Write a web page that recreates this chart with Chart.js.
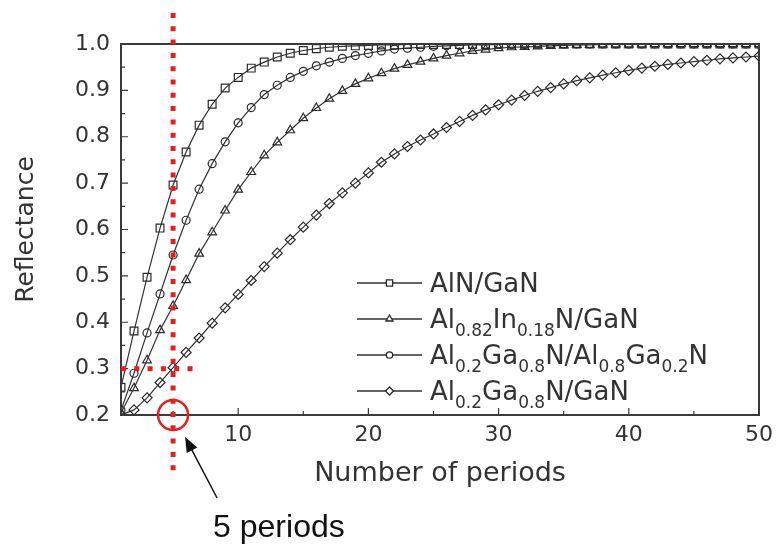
<!DOCTYPE html>
<html>
<head>
<meta charset="utf-8">
<title>Reflectance vs number of periods</title>
<script src="https://cdn.jsdelivr.net/npm/chart.js@4.4.0/dist/chart.umd.min.js"></script>
<style>
    html, body { margin: 0; padding: 0; background: #fff; }
    #reflectance-chart { display: block; }
</style>
</head>
<body>
<canvas id="reflectance-chart" width="780" height="548"></canvas>
<script>
// number of DBR periods
var periods = [1, 2, 3, 4, 5, 6, 7, 8, 9, 10,
    11, 12, 13, 14, 15, 16, 17, 18, 19, 20,
    21, 22, 23, 24, 25, 26, 27, 28, 29, 30,
    31, 32, 33, 34, 35, 36, 37, 38, 39, 40,
    41, 42, 43, 44, 45, 46, 47, 48, 49, 50];

// reflectance of each mirror stack
var alnGan = [0.260, 0.381, 0.497, 0.603, 0.696, 0.767, 0.825, 0.870, 0.905, 0.928,
    0.948, 0.961, 0.972, 0.980, 0.986, 0.990, 0.993, 0.995, 0.996, 0.997,
    0.998, 0.998, 0.999, 0.999, 0.999, 0.999, 0.999, 0.999, 0.999, 1.000,
    1.000, 1.000, 1.000, 1.000, 1.000, 1.000, 1.000, 1.000, 1.000, 1.000,
    1.000, 1.000, 1.000, 1.000, 1.000, 1.000, 1.000, 1.000, 1.000, 1.000];
var alInGan = [0.205, 0.258, 0.318, 0.383, 0.435, 0.491, 0.548, 0.594, 0.641, 0.686,
    0.724, 0.760, 0.788, 0.814, 0.840, 0.862, 0.882, 0.899, 0.914, 0.926,
    0.937, 0.947, 0.955, 0.962, 0.969, 0.975, 0.980, 0.985, 0.988, 0.991,
    0.993, 0.994, 0.995, 0.996, 0.997, 0.998, 0.998, 0.999, 0.999, 0.999,
    0.999, 1.000, 1.000, 1.000, 1.000, 1.000, 1.000, 1.000, 1.000, 1.000];
var alGaNAlGaN = [0.210, 0.290, 0.377, 0.461, 0.545, 0.620, 0.687, 0.742, 0.789, 0.830,
    0.863, 0.891, 0.911, 0.928, 0.941, 0.953, 0.961, 0.969, 0.975, 0.980,
    0.985, 0.989, 0.991, 0.993, 0.995, 0.996, 0.997, 0.998, 0.998, 0.999,
    0.999, 0.999, 1.000, 1.000, 1.000, 1.000, 1.000, 1.000, 1.000, 1.000,
    1.000, 1.000, 1.000, 1.000, 1.000, 1.000, 1.000, 1.000, 1.000, 1.000];
var alGaNGan = [0.200, 0.211, 0.237, 0.270, 0.302, 0.335, 0.366, 0.398, 0.431, 0.460,
    0.490, 0.520, 0.549, 0.578, 0.605, 0.631, 0.656, 0.679, 0.700, 0.722,
    0.745, 0.763, 0.779, 0.793, 0.806, 0.820, 0.833, 0.846, 0.858, 0.869,
    0.879, 0.889, 0.898, 0.906, 0.914, 0.921, 0.927, 0.933, 0.938, 0.943,
    0.948, 0.952, 0.956, 0.959, 0.962, 0.965, 0.968, 0.970, 0.972, 0.974];

// legend names, _{..} marks a subscript
var seriesNames = ['AlN/GaN', 'Al_{0.82}In_{0.18}N/GaN',
    'Al_{0.2}Ga_{0.8}N/Al_{0.8}Ga_{0.2}N', 'Al_{0.2}Ga_{0.8}N/GaN'];

var xTickValues = [10, 20, 30, 40, 50];
var xMinorTicks = [5, 15, 25, 35, 45];
var yTickValues = [0.2, 0.3, 0.4, 0.5, 0.6, 0.7, 0.8, 0.9, 1.0];
var yMinorTicks = [0.25, 0.35, 0.45, 0.55, 0.65, 0.75, 0.85, 0.95];

// the 5-period marker
var markPeriod = 5;
var markReflectance = 0.3;

var FONT = '"DejaVu Sans", sans-serif';
var INK = '#333';
var RED = '#e3211c';

function toPoints(values) {
    return periods.map(function (p, i) { return { x: p, y: values[i] }; });
}

function parseLabel(s) {
    var parts = [], re = /_\{([^}]*)\}/g, last = 0, m;
    while ((m = re.exec(s))) {
        if (m.index > last) parts.push({ text: s.slice(last, m.index), sub: false });
        parts.push({ text: m[1], sub: true });
        last = re.lastIndex;
    }
    if (last < s.length) parts.push({ text: s.slice(last), sub: false });
    return parts;
}

function makeSeries(values, name, style, radius) {
    return {
        label: name.replace(/_\{([^}]*)\}/g, '$1'),
        data: toPoints(values),
        borderColor: '#333',
        borderWidth: 1.2,
        pointStyle: style,
        pointRadius: radius,
        pointBorderColor: '#2a2a2a',
        pointBorderWidth: 1.2,
        pointBackgroundColor: 'rgba(0,0,0,0)',
        tension: 0
    };
}

var datasets = [
    makeSeries(alnGan, seriesNames[0], 'rect', 5.5),
    makeSeries(alInGan, seriesNames[1], 'triangle', 5),
    makeSeries(alGaNAlGaN, seriesNames[2], 'circle', 4),
    makeSeries(alGaNGan, seriesNames[3], 'rectRot', 5)
];

// box round the plot and inward tick marks
var framePlugin = {
    id: 'frame',
    afterDatasetsDraw: function (chart) {
        var ctx = chart.ctx, a = chart.chartArea;
        var xs = chart.scales.x, ys = chart.scales.y;
        ctx.save();
        ctx.strokeStyle = '#3a3a3a';
        ctx.lineWidth = 1.2;
        ctx.beginPath();
        xTickValues.forEach(function (v) {
            var px = xs.getPixelForValue(v);
            ctx.moveTo(px, a.bottom); ctx.lineTo(px, a.bottom - 7);
        });
        xMinorTicks.forEach(function (v) {
            var px = xs.getPixelForValue(v);
            ctx.moveTo(px, a.bottom); ctx.lineTo(px, a.bottom - 4);
        });
        yTickValues.forEach(function (v) {
            var py = ys.getPixelForValue(v);
            ctx.moveTo(a.left, py); ctx.lineTo(a.left + 7, py);
        });
        yMinorTicks.forEach(function (v) {
            var py = ys.getPixelForValue(v);
            ctx.moveTo(a.left, py); ctx.lineTo(a.left + 4, py);
        });
        ctx.stroke();
        ctx.lineWidth = 2;
        ctx.strokeRect(a.left, a.top, a.right - a.left, a.bottom - a.top);
        ctx.restore();
    }
};

// legend with subscripts
var legendPlugin = {
    id: 'subLegend',
    afterDraw: function (chart) {
        var ctx = chart.ctx, a = chart.chartArea;
        var lineX0 = a.left + 236, lineX1 = a.left + 301, textX = a.left + 309;
        var y = a.top + 239;
        ctx.save();
        seriesNames.forEach(function (name, i) {
            var parts = parseLabel(name);
            var hasSub = parts.some(function (p) { return p.sub; });
            if (i > 0) y += hasSub ? 36 : 28;
            var ds = chart.data.datasets[i];
            ctx.strokeStyle = '#333';
            ctx.lineWidth = 1.3;
            ctx.beginPath();
            ctx.moveTo(lineX0, y); ctx.lineTo(lineX1, y);
            ctx.stroke();
            ctx.strokeStyle = '#2a2a2a';
            ctx.fillStyle = '#fff';
            Chart.helpers.drawPoint(ctx, {
                pointStyle: ds.pointStyle, radius: ds.pointRadius * 0.8,
                rotation: 0, borderWidth: 1.2
            }, (lineX0 + lineX1) / 2, y);
            ctx.fillStyle = INK;
            ctx.textBaseline = 'alphabetic';
            ctx.textAlign = 'left';
            var x = textX, base = y + 9;
            parts.forEach(function (p) {
                ctx.font = (p.sub ? '17px ' : '26px ') + FONT;
                ctx.fillText(p.text, x, p.sub ? base + 8 : base);
                x += ctx.measureText(p.text).width;
            });
        });
        ctx.restore();
    }
};

// red guide lines at 5 periods, circle and arrow with caption
var markerPlugin = {
    id: 'periodMarker',
    afterDraw: function (chart) {
        var ctx = chart.ctx, a = chart.chartArea;
        var xs = chart.scales.x, ys = chart.scales.y;
        var x5 = xs.getPixelForValue(markPeriod);
        var y3 = ys.getPixelForValue(markReflectance);
        ctx.save();
        ctx.strokeStyle = RED;
        ctx.lineWidth = 5;
        ctx.lineCap = 'butt';
        ctx.setLineDash([5, 8.3]);
        ctx.beginPath();
        ctx.moveTo(x5, a.top - 31); ctx.lineTo(x5, a.bottom + 62);
        ctx.stroke();
        ctx.beginPath();
        ctx.moveTo(a.left, y3); ctx.lineTo(xs.getPixelForValue(6.7), y3);
        ctx.stroke();
        ctx.setLineDash([]);
        ctx.lineWidth = 2.5;
        ctx.beginPath();
        ctx.arc(x5, a.bottom, 15, 0, Math.PI * 2);
        ctx.stroke();

        // arrow
        var tipX = x5 + 12, tipY = a.bottom + 22;
        var tailX = x5 + 44, tailY = a.bottom + 83;
        var ang = Math.atan2(tipY - tailY, tipX - tailX);
        ctx.strokeStyle = '#111';
        ctx.fillStyle = '#111';
        ctx.lineWidth = 1.5;
        ctx.beginPath();
        ctx.moveTo(tailX, tailY);
        ctx.lineTo(tipX - 8 * Math.cos(ang), tipY - 8 * Math.sin(ang));
        ctx.stroke();
        ctx.beginPath();
        ctx.moveTo(tipX, tipY);
        ctx.lineTo(tipX - 15 * Math.cos(ang) + 6 * Math.sin(ang), tipY - 15 * Math.sin(ang) - 6 * Math.cos(ang));
        ctx.lineTo(tipX - 15 * Math.cos(ang) - 6 * Math.sin(ang), tipY - 15 * Math.sin(ang) + 6 * Math.cos(ang));
        ctx.closePath();
        ctx.fill();

        ctx.font = '32px "Liberation Sans", Arial, sans-serif';
        ctx.textAlign = 'left';
        ctx.textBaseline = 'alphabetic';
        ctx.fillText(markPeriod + ' periods', x5 + 40, a.bottom + 122);
        ctx.restore();
    }
};

var chart = new Chart(document.getElementById('reflectance-chart'), {
    type: 'line',
    data: { datasets: datasets },
    options: {
        responsive: false,
        animation: false,
        layout: { padding: { top: 44, right: 21, left: 0, bottom: 0 } },
        plugins: {
            legend: { display: false },
            tooltip: { enabled: false }
        },
        scales: {
            x: {
                type: 'linear',
                min: 1,
                max: 50,
                grid: { display: false, drawTicks: false },
                border: { display: false },
                afterBuildTicks: function (scale) {
                    scale.ticks = xTickValues.map(function (v) { return { value: v }; });
                },
                afterFit: function (scale) { scale.height = 133; },
                ticks: {
                    autoSkip: false,
                    maxRotation: 0,
                    padding: 7,
                    color: INK,
                    font: { family: FONT, size: 22 }
                },
                title: {
                    display: true,
                    text: 'Number of periods',
                    color: INK,
                    font: { family: FONT, size: 27 },
                    padding: { top: 0, bottom: 58 }
                }
            },
            y: {
                min: 0.2,
                max: 1.0,
                grid: { display: false, drawTicks: false },
                border: { display: false },
                afterBuildTicks: function (scale) {
                    scale.ticks = yTickValues.map(function (v) { return { value: v }; });
                },
                afterFit: function (scale) { scale.width = 121; },
                ticks: {
                    autoSkip: false,
                    padding: 11,
                    color: INK,
                    font: { family: FONT, size: 22 },
                    callback: function (v) { return Number(v).toFixed(1); }
                },
                title: {
                    display: true,
                    text: 'Reflectance',
                    color: INK,
                    font: { family: FONT, size: 25 },
                    padding: { top: 11, bottom: 0 }
                }
            }
        }
    },
    plugins: [framePlugin, legendPlugin, markerPlugin]
});
</script>
</body>
</html>
